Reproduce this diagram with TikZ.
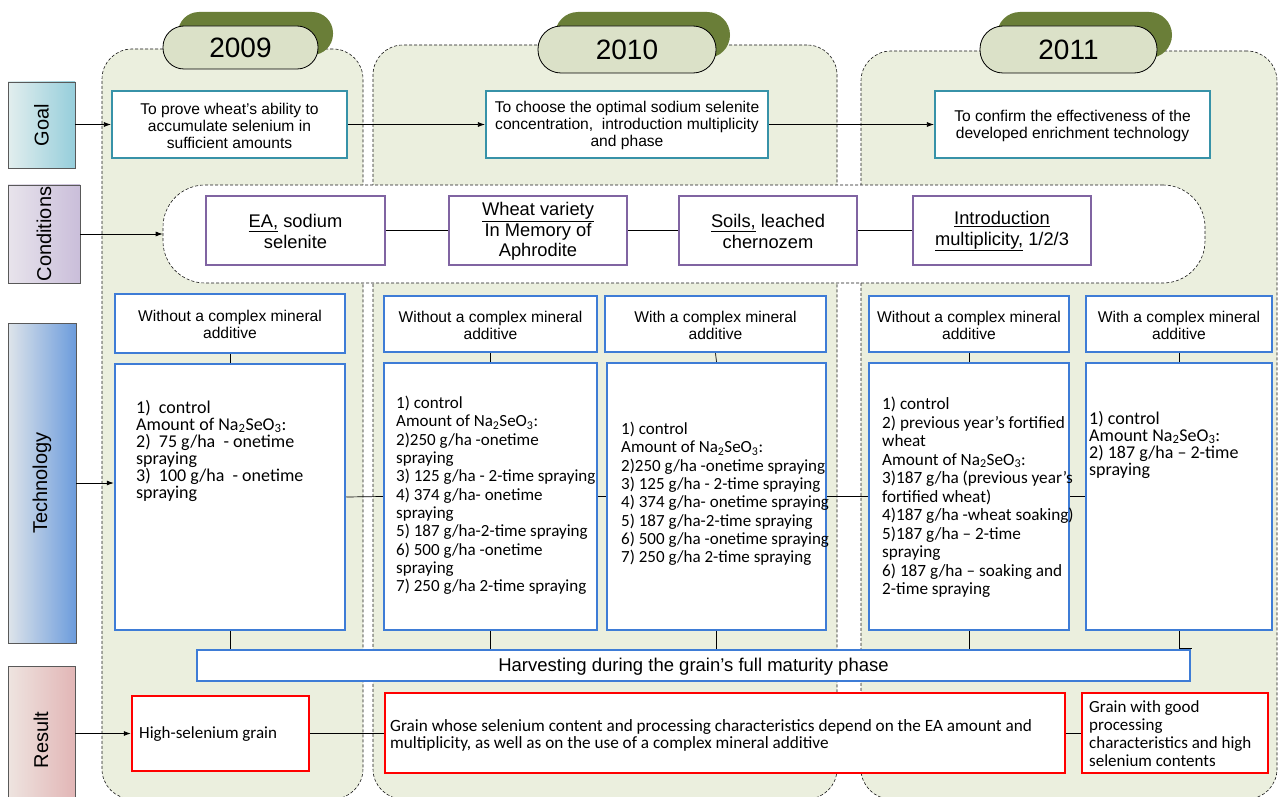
\documentclass[tikz,border=0pt]{standalone}
\usepackage{fontspec}
\setmainfont{Liberation Sans}
\newfontfamily\calfont{Carlito}
\usetikzlibrary{arrows.meta,fit}
\definecolor{colfill}{RGB}{235,239,222}
\definecolor{pillfill}{RGB}{219,225,200}
\definecolor{pillshadow}{RGB}{106,126,56}
\definecolor{goalborder}{RGB}{55,146,168}
\definecolor{condborder}{RGB}{128,100,162}
\definecolor{techborder}{RGB}{62,124,214}
\definecolor{resborder}{RGB}{255,0,0}
\tikzset{
  colbox/.style={draw=black!90, densely dashed, line width=0.6pt, fill=colfill, rounded corners=30pt, inner sep=0pt},
  pillbox/.style={draw=black, line width=0.8pt, fill=pillfill, inner sep=0pt},
  shadowbox/.style={fill=pillshadow, inner sep=0pt},
  sidebox/.style={draw=black!65, line width=0.8pt, inner sep=0pt},
  sidetext/.style={rotate=90, font=\fontsize{20}{22}\selectfont},
  goalbox/.style={draw=goalborder, line width=2.2pt, fill=white, inner sep=0pt, align=center, font=\fontsize{15.6}{17}\selectfont},
  condbox/.style={draw=condborder, line width=2pt, fill=white, inner sep=0pt, align=center, font=\fontsize{18.3}{20.5}\selectfont},
  techbox/.style={draw=techborder, line width=2.5pt, fill=white, inner sep=0pt, align=center, font=\fontsize{15.6}{17}\selectfont},
  harvbox/.style={techbox, line width=2pt, font=\fontsize{18.5}{20}\selectfont},
  resbox/.style={draw=resborder, line width=2.5pt, fill=white, inner sep=0pt},
  bodytext/.style={anchor=north west, inner sep=0pt, align=left},
  yeartext/.style={font=\fontsize{28}{30}\selectfont},
  conn/.style={draw=black, line width=0.7pt},
  arr/.style={conn, -{Latex[length=7pt,width=5pt]}}
}
% box with centred text: style, name, x1, y1, x2, y2, text
\newcommand\mkbox[7]{%
  \node[#1, fit={(#3,#4)(#5,#6)}] (#2) {};
  \node[#1, draw=none, fill=none] (#2t) at ([yshift=-1pt]#2.center) {#7};}
\begin{document}
\begin{tikzpicture}[x=1pt,y=-1pt]
\useasboundingbox (0,0) rectangle (1278,797);
\fill[white] (0,0) rectangle (1278,797);
% year columns
\node[colbox, fit={(102,49)(363,799)}] (col09) {};
\node[colbox, fit={(373,45)(837,799)}] (col10) {};
\node[colbox, fit={(861,51)(1277,799)}] (col11) {};
% year pills
\node[shadowbox, rounded corners=21pt, fit={(178,12)(333,55)}] (sh09) {};
\node[pillbox, rounded corners=21pt, fit={(163,26)(318,69)}] (p09) {};
\node[yeartext] (y09) at (p09.center) {2009};
\node[shadowbox, rounded corners=23pt, fit={(555,12)(730,58)}] (sh10) {};
\node[pillbox, rounded corners=23pt, fit={(538,26)(716,73)}] (p10) {};
\node[yeartext] (y10) at (p10.center) {2010};
\node[shadowbox, rounded corners=23pt, fit={(997,12)(1172,58)}] (sh11) {};
\node[pillbox, rounded corners=23pt, fit={(980,26)(1157,73)}] (p11) {};
\node[yeartext] (y11) at (p11.center) {2011};
% side labels
\node[sidebox, left color={rgb,255:red,226;green,238;blue,238}, right color={rgb,255:red,150;green,206;blue,219}, fit={(8,82)(75,168)}] (goal) {};
\node[sidetext] (goalt) at (goal.center) {Goal};
\node[sidebox, left color={rgb,255:red,232;green,228;blue,236}, right color={rgb,255:red,202;green,190;blue,218}, fit={(8,185)(80,283)}] (cond) {};
\node[sidetext] (condt) at (cond.center) {Conditions};
\node[sidebox, left color={rgb,255:red,222;green,228;blue,234}, right color={rgb,255:red,108;green,156;blue,220}, fit={(8,323)(76,643)}] (tech) {};
\node[sidetext] (techt) at (tech.center) {Technology};
\node[sidebox, left color={rgb,255:red,238;green,228;blue,224}, right color={rgb,255:red,226;green,182;blue,182}, fit={(8,666)(75,800)}] (res) {};
\node[sidetext] (rest) at (41,740) {Result};
% goals
\mkbox{goalbox}{g1}{112}{91}{347}{158}{To prove wheat’s ability to\\accumulate selenium in\\sufficient amounts}
\mkbox{goalbox}{g2}{486}{91}{768}{158}{To choose the optimal sodium selenite\\concentration,\ \ introduction multiplicity\\and phase}
\mkbox{goalbox}{g3}{935}{91}{1210}{158}{To confirm the effectiveness of the\\developed enrichment technology}
% conditions
\node[draw=black!90, densely dashed, line width=0.6pt, fill=white, rounded corners=42pt, inner sep=0pt, fit={(163,185)(1205,283)}] (crect) {};
\mkbox{condbox}{c1}{206}{196}{385}{265}{\underline{EA,} sodium\\selenite}
\mkbox{condbox}{c2}{449}{196}{627}{265}{\underline{Wheat variety}\\In Memory of\\Aphrodite}
\mkbox{condbox}{c3}{679}{196}{857}{265}{\underline{Soils,} leached\\chernozem}
\mkbox{condbox}{c4}{913}{196}{1091}{265}{\underline{Introduction}\\\underline{multiplicity,} 1/2/3}
% technology headers
\mkbox{techbox}{h1}{115}{294}{345}{353}{Without a complex mineral\\additive}
\mkbox{techbox}{h2}{384}{296}{597}{352}{Without a complex mineral\\additive}
\mkbox{techbox}{h3}{605}{296}{826}{352}{With a complex mineral\\additive}
\mkbox{techbox}{h4}{869}{296}{1069}{352}{Without a complex mineral\\additive}
\mkbox{techbox}{h5}{1086}{296}{1272}{352}{With a complex mineral\\additive}
% technology bodies
\node[techbox, fit={(115,364)(345,630)}] (b1) {};
\node[techbox, fit={(384,363)(597,630)}] (b2) {};
\node[techbox, fit={(607,363)(826,630)}] (b3) {};
\node[techbox, fit={(869,363)(1069,630)}] (b4) {};
\node[techbox, fit={(1086,363)(1272,630)}] (b5) {};
\node[bodytext, font=\calfont\fontsize{18}{17}\selectfont] (b1t) at (136,400) {1)\ \ control\\Amount of Na\textsubscript{2}SeO\textsubscript{3}:\\2)\ \ 75 g/ha\ \ - onetime\\spraying\\3)\ \ 100 g/ha\ \ - onetime\\spraying};
\node[bodytext, font=\calfont\fontsize{17}{18.3}\selectfont] (b2t) at (396,396) {1) control\\Amount of Na\textsubscript{2}SeO\textsubscript{3}:\\2)250 g/ha -onetime\\spraying\\3) 125 g/ha - 2-time spraying\\4) 374 g/ha- onetime\\spraying\\5) 187 g/ha-2-time spraying\\6) 500 g/ha -onetime\\spraying\\7) 250 g/ha 2-time spraying};
\node[bodytext, font=\calfont\fontsize{17}{18.3}\selectfont] (b3t) at (621,422) {1) control\\Amount of Na\textsubscript{2}SeO\textsubscript{3}:\\2)250 g/ha -onetime spraying\\3) 125 g/ha - 2-time spraying\\4) 374 g/ha- onetime spraying\\5) 187 g/ha-2-time spraying\\6) 500 g/ha -onetime spraying\\7) 250 g/ha 2-time spraying};
\node[bodytext, font=\calfont\fontsize{17.2}{18.5}\selectfont] (b4t) at (882,397) {1) control\\2) previous year’s fortified\\wheat\\Amount of Na\textsubscript{2}SeO\textsubscript{3}:\\3)187 g/ha (previous year’s\\fortified wheat)\\4)187 g/ha -wheat soaking)\\5)187 g/ha – 2-time\\spraying\\6) 187 g/ha – soaking and\\2-time spraying};
\node[bodytext, font=\calfont\fontsize{18}{17}\selectfont] (b5t) at (1089,411) {1) control\\Amount Na\textsubscript{2}SeO\textsubscript{3}:\\2) 187 g/ha – 2-time\\spraying};
% harvest
\mkbox{harvbox}{harv}{197}{650}{1190}{681}{Harvesting during the grain’s full maturity phase}
% results
\node[resbox, fit={(132,696)(309,771)}] (r1) {};
\node[resbox, fit={(385,693)(1065,773)}] (r2) {};
\node[resbox, fit={(1082,693)(1268,773)}] (r3) {};
\node[inner sep=0pt, anchor=base west, font=\calfont\fontsize{17}{18}\selectfont] (r1t) at (139,738) {High-selenium grain};
\node[bodytext, font=\calfont\fontsize{17.2}{17}\selectfont] (r2t) at (390,719) {Grain whose selenium content and processing characteristics depend on the EA amount and\\multiplicity, as well as on the use of a complex mineral additive};
\node[bodytext, font=\calfont\fontsize{17}{18}\selectfont] (r3t) at (1089,700) {Grain with good\\processing\\characteristics and high\\selenium contents};
% connectors
\draw[arr] (goal.east |- g1.west) -- (g1.west);
\draw[arr] (g1.east) -- (g2.west);
\draw[arr] (g2.east) -- (g3.west);
\draw[arr] (cond.east |- crect.west) -- (crect.west);
\draw[conn] (c1.east) -- (c2.west);
\draw[conn] (c2.east) -- (c3.west);
\draw[conn] (c3.east) -- (c4.west);
\draw[arr] (tech.east) -- (tech.east -| b1.west);
\draw[conn] (b1.east) -- (b2.west);
\draw[conn] (b2.east) -- (b3.west);
\draw[conn] (b3.east) -- (b4.west);
\draw[conn] (b4.east) -- (b5.west);
\draw[conn] (h1.south) -- (b1.north);
\draw[conn] (h2.south) -- (b2.north);
\draw[conn] (h3.south) -- (b3.north);
\draw[conn] (h4.south) -- (b4.north);
\draw[conn] (h5.south) -- (b5.north);
\draw[conn] (b1.south) -- (b1.south |- harv.north);
\draw[conn] (b2.south) -- (b2.south |- harv.north);
\draw[conn] (b3.south) -- (b3.south |- harv.north);
\draw[conn] (b4.south) -- (b4.south |- harv.north);
\draw[conn] (b5.south) -- ++(0,17) -| (harv.north east);
\draw[arr] (res.east |- r1.west) -- (r1.west);
\draw[conn] (r1.east) -- (r1.east -| r2.west);
\draw[conn] (r2.east) -- (r2.east -| r3.west);
\end{tikzpicture}
\end{document}
